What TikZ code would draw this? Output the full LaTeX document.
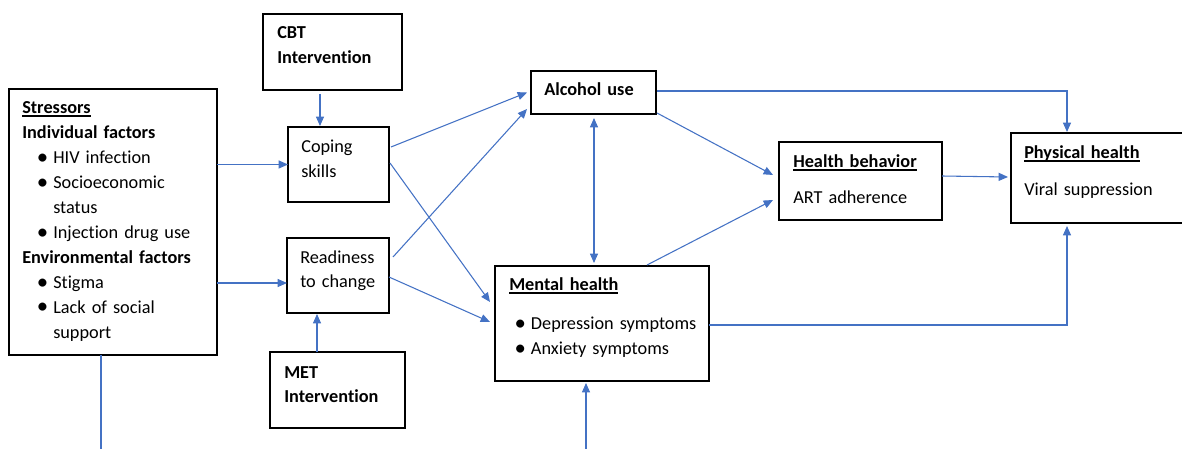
\documentclass[tikz,border=0pt]{standalone}
\usepackage{fontspec}
\setmainfont{Carlito}[Ligatures=NoCommon]
\usepackage{tikz}
\usetikzlibrary{arrows.meta,calc}
\definecolor{wordblue}{HTML}{4472C4}
\newcommand{\ulb}[1]{\sbox0{\bfseries #1}\rlap{\rule[-1.9pt]{\wd0}{0.9pt}}\usebox0}
\newcommand{\bitem}[2][11pt]{\hspace*{#1}\makebox[12.25pt][l]{\raisebox{-0.4pt}{\scalebox{1.25}{\textbullet}}}#2}

\begin{document}
\begin{tikzpicture}[x=0.75pt,y=-0.75pt,
every node/.style={font=\fontsize{13.7}{18.7}\selectfont},
box/.style={draw=black,line width=1.1pt,anchor=north west,inner sep=0pt,outer sep=0pt},
txt/.style={anchor=base west,inner sep=0pt,align=left,text width=150pt},
arr/.style={-{Triangle[length=7pt,width=6pt]},line width=0.8pt,draw=wordblue},
dbl/.style={arr,{Triangle[length=7pt,width=6pt]}-{Triangle[length=7pt,width=6pt]}}
]
\useasboundingbox (0,0) rectangle (1182,449);
\clip (0,0) rectangle (1182,449);

% boxes
\node[box,minimum width=156pt,minimum height=199.5pt]  (stress) at (9,89)    {};
\node[box,minimum width=104.25pt,minimum height=57pt]  (cbt)    at (263,14)  {};
\node[box,minimum width=75.75pt,minimum height=56.25pt] (coping) at (288,127) {};
\node[box,minimum width=76.5pt,minimum height=56.25pt] (ready)  at (287,238) {};
\node[box,minimum width=101.25pt,minimum height=57pt]  (met)    at (270,352) {};
\node[box,minimum width=93.75pt,minimum height=32.25pt] (alc)   at (531,71)  {};
\node[box,minimum width=160.5pt,minimum height=86.25pt] (mental) at (495,266) {};
\node[box,minimum width=122.25pt,minimum height=58.5pt] (behav) at (779,142) {};
\node[box,minimum width=135pt,minimum height=67.5pt]   (phys)   at (1011,133) {};

% texts
\node[txt] (stress-t) at (22,114) {\ulb{Stressors}\\ \textbf{Individual factors}\\
  \bitem{HIV infection}\\ \bitem{Socioeconomic}\\ \hspace*{23.25pt}status\\
  \bitem{Injection drug use}\\ \textbf{Environmental factors}\\ \bitem{Stigma}\\
  \bitem{Lack of social}\\ \hspace*{23.25pt}support};
\node[txt] (cbt-t)    at (277,39)  {\bfseries CBT\\ Intervention};
\node[txt] (coping-t) at (301,153) {Coping\\ skills};
\node[txt] (ready-t)  at (300,263) {Readiness\\ to change};
\node[txt] (met-t)    at (284,378) {\bfseries MET\\ Intervention};
\node[txt] (alc-t)    at (544,96)  {\bfseries Alcohol use};
\node[txt] (mental-t) at (509,291) {\ulb{Mental health}\\[10.5pt]
  \bitem[4pt]{Depression symptoms}\\ \bitem[4pt]{Anxiety symptoms}};
\node[txt] (behav-t)  at (793,168) {\ulb{Health behavior}\\[8.3pt] ART adherence};
\node[txt] (phys-t)   at (1024,159) {\ulb{Physical health}\\[9pt] Viral suppression};

% connectors
\draw[arr] (stress.east |- coping.west) -- (coping.west);
\draw[arr] ($(stress.east |- ready.west)+(0,7.5)$) -- ($(ready.west)+(0,7.5)$);
\draw[arr] ($(cbt.south west)+(57,4)$) -- ($(coping.north west)+(32,-1)$);
\draw[arr] ($(met.north west)+(47,0)$) -- ($(ready.south west)+(30,1)$);
\draw[arr] ($(coping.north east)+(2,20)$) -- ($(alc.west)+(-4,0)$);
\draw[arr] ($(coping.north east)+(1,36)$) -- ($(mental.north west)+(-5,36)$);
\draw[arr] ($(ready.north east)+(4,19)$) -- ($(alc.south west)+(-4,-5)$);
\draw[arr] ($(ready.north east)+(0,39)$) -- ($(mental.north west)+(-5,56)$);
\draw[dbl] ($(alc.south west)+(63,4)$) -- ($(mental.north west)+(99,-3)$);
\draw[arr] ($(alc.south east)+(1,-1)$) -- ($(behav.west)+(-6,-6)$);
\draw[arr] ($(mental.north west)+(152,-1)$) -- ($(behav.west)+(-6,19)$);
\draw[arr] ($(alc.east)+(1,-1.5)$) -| ($(phys.north west)+(56,-1)$);
\draw[arr] ($(behav.east)+(0,-5)$) -- ($(phys.north west)+(-3,44)$);
\draw[arr] ($(mental.east)+(0,1.5)$) -| ($(phys.south west)+(56,3)$);
\draw[arr] ($(stress.south west)+(92,0)$) -- ++(0,94.5) -| ($(mental.south west)+(91,2)$);
\end{tikzpicture}
\end{document}
